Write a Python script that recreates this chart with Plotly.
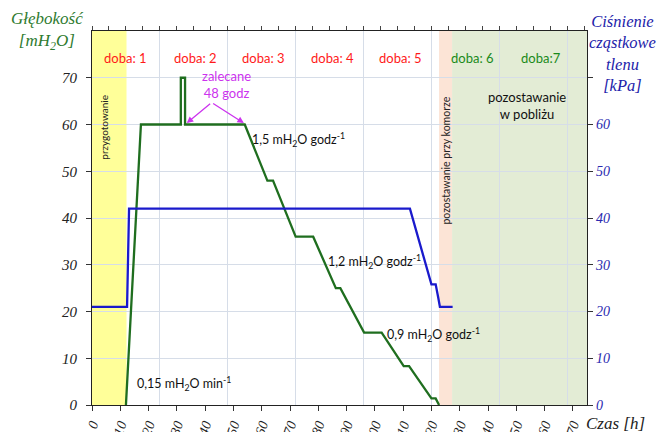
import plotly.graph_objects as go

# ---- data ----
depth_t = [12, 17.3, 31.4, 31.4, 32.9, 32.9, 54, 62, 64, 72, 78.2, 86.2, 87.8, 96.2, 102.4, 110.2, 112.1, 120, 121.5, 122.7]
depth_v = [0, 60, 60, 70, 70, 60, 60, 48, 48, 36, 36, 25, 25, 15.5, 15.5, 8.3, 8.3, 1.4, 1.4, 0]
o2_t = [0, 12.4, 13.1, 112.4, 120, 121.5, 122.4, 123, 127.5]
o2_v = [21, 21, 42, 42, 25.8, 25.8, 23, 21, 21]

day_x = [12, 36.5, 60.8, 85, 109, 134.5, 158.7]
day_labels = ["doba: 1", "doba: 2", "doba: 3", "doba: 4", "doba: 5", "doba: 6", "doba:7"]
day_colors = ["#ff1a1a"] * 5 + ["#1a8a1a"] * 2

phases = [(0, 12.2, "#ffff99"), (122.7, 127.3, "#fce4d6"), (127.3, 175, "#e3ecd5")]

rate_labels = [
    (55.8, 56.7, "1,5 mH<sub>2</sub>O godz<sup>-1</sup>"),
    (82.7, 30.7, "1,2 mH<sub>2</sub>O godz<sup>-1</sup>"),
    (103.5, 15.1, "0,9 mH<sub>2</sub>O godz<sup>-1</sup>"),
    (15.2, 4.5, "0,15 mH<sub>2</sub>O min<sup>-1</sup>"),
]

x_ticks = list(range(0, 171, 10))
y_ticks = list(range(0, 71, 10))
day_grid = list(range(24, 169, 24))

serif = "Liberation Serif"
sans = "Lato"

fig = go.Figure()
fig.add_trace(go.Scatter(x=depth_t, y=depth_v, mode="lines",
                         line=dict(color="#1f6e1f", width=2.3), xaxis="x", yaxis="y",
                         hoverinfo="skip", showlegend=False))
fig.add_trace(go.Scatter(x=o2_t, y=o2_v, mode="lines",
                         line=dict(color="#1a1acc", width=2.3), xaxis="x", yaxis="y2",
                         hoverinfo="skip", showlegend=False))
# invisible traces to instantiate helper axes
fig.add_trace(go.Scatter(x=[0], y=[0], mode="markers", marker=dict(opacity=0),
                         xaxis="x2", yaxis="y", hoverinfo="skip", showlegend=False))
fig.add_trace(go.Scatter(x=[0], y=[0], mode="markers", marker=dict(opacity=0),
                         xaxis="x3", yaxis="y", hoverinfo="skip", showlegend=False))

shapes = []
for x0, x1, c in phases:
    shapes.append(dict(type="rect", xref="x", yref="y", x0=x0, x1=x1, y0=0, y1=80,
                       fillcolor=c, line=dict(width=0), layer="below"))

ann = []
for x, t, c in zip(day_x, day_labels, day_colors):
    ann.append(dict(x=x, y=74.2, xref="x", yref="y", text=t, showarrow=False,
                    font=dict(family=sans, size=13, color=c)))
for x, y, t in rate_labels:
    ann.append(dict(x=x, y=y, xref="x", yref="y", text=t, showarrow=False, xanchor="left",
                    font=dict(family=sans, size=12.5, color="#111111")))
ann.append(dict(x=4.2, y=59.5, xref="x", yref="y", text="przygotowanie", showarrow=False,
                textangle=-90, font=dict(family=sans, size=10, color="#222222")))
ann.append(dict(x=125, y=52.2, xref="x", yref="y", text="pozostawanie przy komorze",
                showarrow=False, textangle=-90, font=dict(family=sans, size=10.5, color="#222222")))
ann.append(dict(x=153.7, y=64, xref="x", yref="y", text="pozostawanie<br>w pobliżu",
                showarrow=False, font=dict(family=sans, size=13, color="#111111")))
ann.append(dict(x=47.6, y=68.6, xref="x", yref="y", text="zalecane<br>48 godz",
                showarrow=False, font=dict(family=sans, size=13, color="#cc33ee")))
for hx in (33.5, 53.7):
    ann.append(dict(x=hx, y=60.3, xref="x", yref="y", ax=42.3, ay=64.7, axref="x", ayref="y",
                    text="", showarrow=True, arrowhead=2, arrowsize=1, arrowwidth=1.3,
                    arrowcolor="#cc33ee"))
ann.append(dict(x=-0.089, y=1.065, xref="paper", yref="paper", yanchor="top", xanchor="center",
                text="Głębokość<br>[mH<sub>2</sub>O]", showarrow=False,
                font=dict(family=serif, size=17, color="#2e7a2e", style="italic")))
ann.append(dict(x=1.072, y=1.055, xref="paper", yref="paper", yanchor="top", xanchor="center",
                text="Ciśnienie<br>cząstkowe<br>tlenu<br>[kPa]", showarrow=False,
                font=dict(family=serif, size=16.5, color="#2222aa", style="italic")))
ann.append(dict(x=1.057, y=-0.05, xref="paper", yref="paper", yanchor="middle", xanchor="center",
                text="Czas [h]", showarrow=False,
                font=dict(family=serif, size=17, color="#222222", style="italic")))

fig.update_layout(
    width=656, height=424,
    margin=dict(l=84, r=77, t=23, b=27, autoexpand=False),
    paper_bgcolor="white", plot_bgcolor="white",
    showlegend=False,
    shapes=shapes, annotations=ann,
    xaxis=dict(range=[0, 175], tickvals=x_ticks, ticks="outside", ticklen=5, tickcolor="#333",
               showgrid=False, zeroline=False, showline=True, linecolor="#222", linewidth=1.2,
               tickangle=-70, automargin=False,
               tickfont=dict(family=serif, size=14, color="#222", style="italic")),
    xaxis2=dict(range=[0, 175], overlaying="x", tickvals=day_grid, showgrid=True,
                gridcolor="#d6dde8", gridwidth=1, showticklabels=False, ticks="",
                zeroline=False, showline=False),
    xaxis3=dict(range=[0, 175], overlaying="x", side="top", dtick=6, tick0=0, ticks="outside",
                ticklen=4, tickcolor="#444", showgrid=False, showticklabels=False,
                zeroline=False, showline=True, linecolor="#222", linewidth=1),
    yaxis=dict(range=[0, 80], tickvals=y_ticks, ticks="outside", ticklen=5, tickcolor="#333",
               showgrid=True, gridcolor="#d6dde8", gridwidth=1, zeroline=False,
               showline=True, linecolor="#222", linewidth=1.2, automargin=False,
               ticklabelstandoff=6,
               tickfont=dict(family=serif, size=15, color="#222", style="italic")),
    yaxis2=dict(range=[0, 80], overlaying="y", side="right", tickvals=y_ticks,
                ticktext=[str(v) if v <= 60 else "" for v in y_ticks],
                ticks="outside", ticklen=5, tickcolor="#333", showgrid=False, zeroline=False,
                showline=True, linecolor="#222", linewidth=1.2, automargin=False,
                tickfont=dict(family=serif, size=14, color="#2a2ab0", style="italic")),
)

fig.write_html("out.html")
